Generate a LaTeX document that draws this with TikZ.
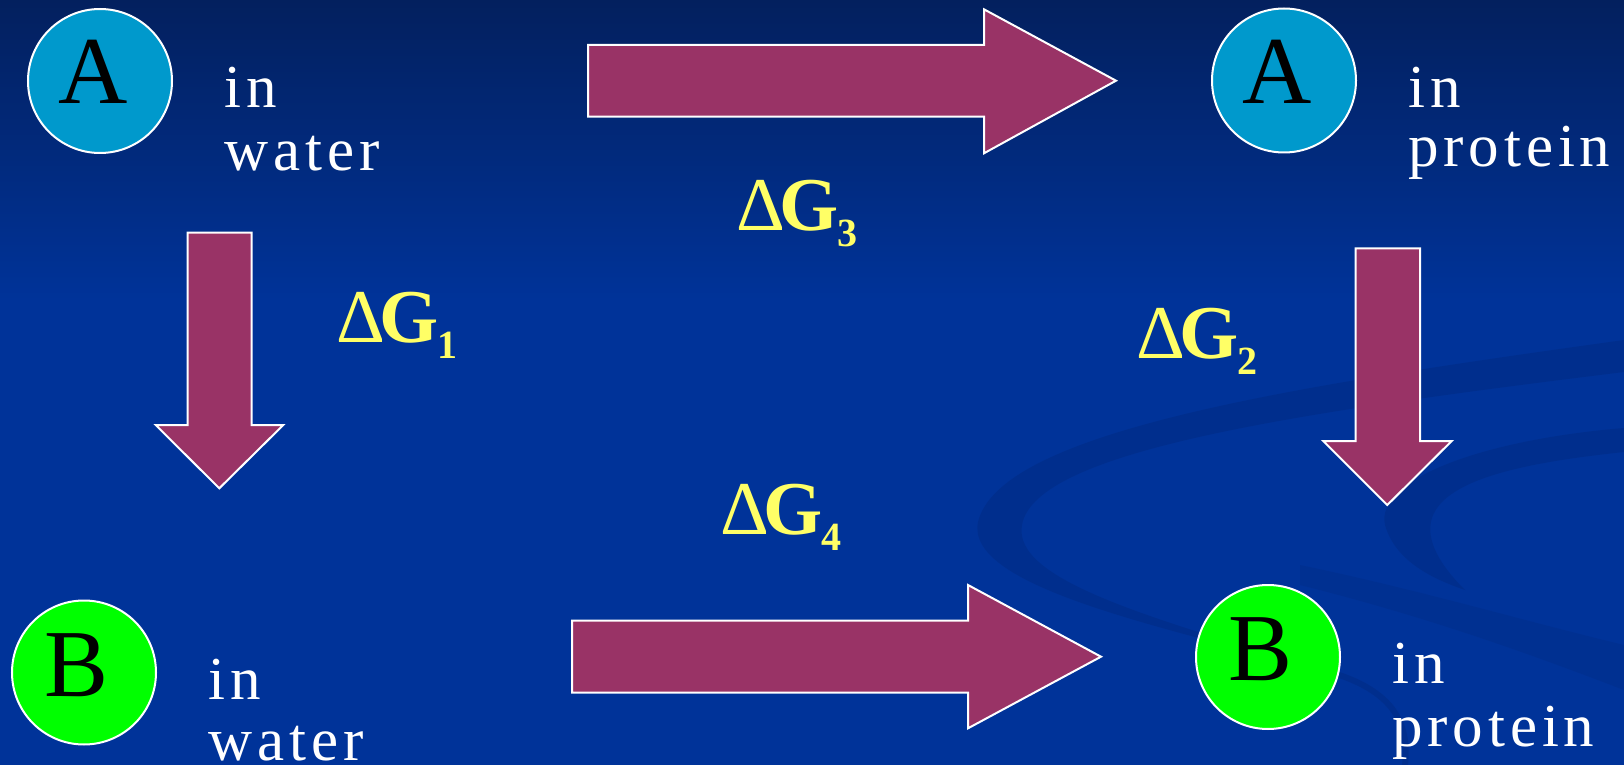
\documentclass[tikz,border=0pt]{standalone}
\usepackage{fontspec}
\setmainfont{Liberation Serif}
\newfontfamily\spaced[LetterSpace=8]{Liberation Serif}
\definecolor{bgtop}{HTML}{03205E}
\definecolor{bgmain}{HTML}{003399}
\definecolor{swirlc}{HTML}{002A80}
\definecolor{arrowfill}{HTML}{993366}
\definecolor{circA}{HTML}{0099CC}
\definecolor{circB}{HTML}{00FF00}
\definecolor{dgcol}{HTML}{FFFF66}
\newcommand{\dg}[1]{\textnormal{Δ}\kern-3pt\textbf{G}\kern-0.5pt\raisebox{-8pt}{\fontsize{20}{20}\selectfont\textbf{#1}}}
\tikzset{
  blockarrow/.style={fill=arrowfill, draw=white, line width=1pt, line join=miter},
  molecule/.style={circle, draw=white, line width=1pt, minimum size=72pt, inner sep=0pt},
  molA/.style={molecule, fill=circA},
  molB/.style={molecule, fill=circB},
  letter/.style={anchor=base, inner sep=0pt, text=black, font=\fontsize{48}{50}\selectfont},
  lbl/.style={anchor=base west, inner sep=0pt, text=white, font=\spaced\fontsize{30.5}{32}\selectfont},
  dglabel/.style={anchor=base west, inner sep=0pt, text=dgcol, font=\fontsize{38}{40}\selectfont},
  swirlband/.style={fill=swirlc, opacity=0.45},
  swirlline/.style={draw=swirlc, opacity=0.45, line cap=round}
}
\begin{document}
\begin{tikzpicture}[x=0.5pt, y=-0.5pt]
\useasboundingbox (0,0) rectangle (1624,765);
% background
\fill[bgmain] (0,0) rectangle (1624,765);
\fill[top color=bgtop, bottom color=bgmain] (0,0) rectangle (1624,300);
% swirl decoration
\fill[swirlband] (1624,340) .. controls (1300,385) and (1000,430) .. (978,522)
   .. controls (965,585) and (1150,625) .. (1330,672)
   .. controls (1150,618) and (1012,580) .. (1022,525)
   .. controls (1035,450) and (1300,412) .. (1624,372) -- cycle;
\draw[swirlline, line width=3pt] (1330,672) .. controls (1390,690) and (1410,720) .. (1405,765);
\fill[swirlband] (1624,428) .. controls (1480,440) and (1375,480) .. (1385,525)
   .. controls (1395,560) and (1430,578) .. (1465,590)
   .. controls (1440,565) and (1425,540) .. (1432,518)
   .. controls (1445,478) and (1530,462) .. (1624,452) -- cycle;
\fill[swirlband, opacity=0.3] (1300,565) .. controls (1420,590) and (1520,620) .. (1624,645)
   -- (1624,690) .. controls (1520,650) and (1420,615) .. (1300,585) -- cycle;

% molecules
\node[molA] (A1) at (100,81) {};
\node[letter] (A1t) at (93,104) {A};
\node[molA] (A2) at (1284,80.5) {};
\node[letter] (A2t) at (1277,104) {A};
\node[molB] (B1) at (84,672.5) {};
\node[letter] (B1t) at (77,696) {B};
\node[molB] (B2) at (1268,657) {};
\node[letter] (B2t) at (1261,680.5) {B};

% labels
\node[lbl] (A1l1) at (224,108) {in};
\node[lbl] (A1l2) at (224,170) {water};
\node[lbl] (A2l1) at (1408,108) {in};
\node[lbl] (A2l2) at (1408,167) {protein};
\node[lbl] (B1l1) at (208,699) {in};
\node[lbl] (B1l2) at (208,760) {water};
\node[lbl] (B2l1) at (1392,683) {in};
\node[lbl] (B2l2) at (1392,746) {protein};

% block arrows
\draw[blockarrow] (588,45) -- (984,45) -- (984,9.3) -- (1116,80.7) -- (984,153.3)
   -- (984,116.7) -- (588,116.7) -- cycle;
\draw[blockarrow] (572,620.7) -- (968,620.7) -- (968,585) -- (1101,656.7) -- (968,728.3)
   -- (968,692.7) -- (572,692.7) -- cycle;
\draw[blockarrow] (187.7,232.7) -- (251.7,232.7) -- (251.7,425) -- (283.3,425) -- (219.3,488.3)
   -- (155.7,425) -- (187.7,425) -- cycle;
\draw[blockarrow] (1355.7,248.3) -- (1420,248.3) -- (1420,441) -- (1451.7,441) -- (1387.3,505)
   -- (1323.3,441) -- (1355.7,441) -- cycle;

% free energy labels
\node[dglabel] (G3) at (736,231) {\dg{3}};
\node[dglabel] (G1) at (336,343) {\dg{1}};
\node[dglabel] (G2) at (1136,358) {\dg{2}};
\node[dglabel] (G4) at (720,534) {\dg{4}};
\end{tikzpicture}
\end{document}
